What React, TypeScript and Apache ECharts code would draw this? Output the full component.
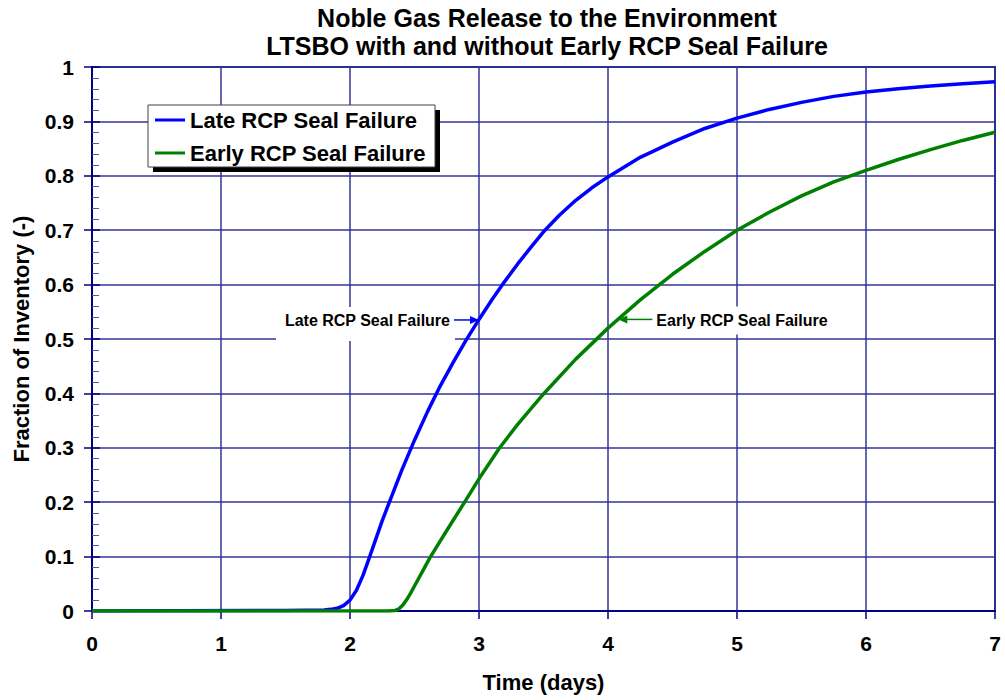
import React, { useEffect, useRef } from "react";
import * as echarts from "echarts";

const TITLE_LINES = [
  "Noble Gas Release to the Environment",
  "LTSBO with and without Early RCP Seal Failure",
];
const X_NAME = "Time (days)";
const Y_NAME = "Fraction of Inventory (-)";
const SERIES_NAMES = ["Late RCP Seal Failure", "Early RCP Seal Failure"];
const SERIES_COLORS = ["#0000FF", "#008000"];

const lateDays = [0, 1.5, 1.8, 1.85, 1.9, 1.95, 2.0, 2.05, 2.1, 2.15, 2.2, 2.25, 2.3, 2.4, 2.5, 2.6, 2.7, 2.8, 2.9, 3.0, 3.1, 3.2, 3.3, 3.4, 3.5, 3.625, 3.75, 3.875, 4.0, 4.25, 4.5, 4.75, 5.0, 5.25, 5.5, 5.75, 6.0, 6.25, 6.5, 6.75, 7.0];
const lateFrac = [0, 0.001, 0.002, 0.003, 0.005, 0.01, 0.02, 0.038, 0.065, 0.098, 0.132, 0.166, 0.197, 0.258, 0.314, 0.366, 0.414, 0.457, 0.498, 0.536, 0.572, 0.606, 0.638, 0.668, 0.697, 0.728, 0.755, 0.778, 0.798, 0.834, 0.862, 0.887, 0.906, 0.922, 0.935, 0.946, 0.954, 0.96, 0.965, 0.969, 0.973];

const earlyDays = [0, 2.3, 2.35, 2.38, 2.41, 2.44, 2.47, 2.5, 2.56, 2.62, 2.75, 2.88, 3.0, 3.16, 3.3, 3.5, 3.75, 4.0, 4.25, 4.5, 4.75, 5.0, 5.25, 5.5, 5.75, 6.0, 6.25, 6.5, 6.75, 7.0];
const earlyFrac = [0, 0, 0.001, 0.004, 0.011, 0.021, 0.033, 0.046, 0.072, 0.098, 0.148, 0.197, 0.243, 0.3, 0.343, 0.399, 0.463, 0.52, 0.572, 0.619, 0.661, 0.7, 0.733, 0.763, 0.789, 0.81, 0.83, 0.848, 0.865, 0.88];

const X_MIN = 0, X_MAX = 7, X_STEP = 1;
const Y_MIN = 0, Y_MAX = 1, Y_STEP = 0.1;

const LATE_LABEL_AT = [3.0, 0.535];
const EARLY_LABEL_AT = [4.08, 0.536];

const FONT = "'Liberation Sans', Arial, Helvetica, sans-serif";
const GRID_COLOR = "#333399";
const AXIS_COLOR = "#000080";

export default function App() {
  const ref = useRef<HTMLDivElement>(null);

  useEffect(() => {
    document.body.style.margin = "0";
    const chart = echarts.init(ref.current!, null, { renderer: "svg" });

    const labelStyle = { fontFamily: FONT, fontWeight: "bold" as const, fontSize: 21, color: "#000" };

    const option: any = {
      animation: false,
      backgroundColor: "#fff",
      grid: {
        left: 92, right: 10, top: 67, bottom: 89,
        show: true, borderColor: "#1c1c88", borderWidth: 2, backgroundColor: "transparent",
      },
      legend: {
        orient: "vertical", left: 150, top: 104, z: 10, padding: 5,
        itemWidth: 30, itemHeight: 3, itemGap: 11, itemTextGap: 5,
        icon: "rect",
        data: SERIES_NAMES,
        textStyle: { fontFamily: FONT, fontWeight: "bold", fontSize: 22, lineHeight: 22, color: "#000" },
      },
      xAxis: {
        type: "value", min: X_MIN, max: X_MAX, interval: X_STEP,
        name: X_NAME, nameLocation: "middle", nameGap: 60,
        nameTextStyle: { fontFamily: FONT, fontWeight: "bold", fontSize: 22, color: "#000" },
        axisLine: { show: true, onZero: false, lineStyle: { color: AXIS_COLOR, width: 2 } },
        axisTick: { show: true, length: 8, lineStyle: { color: AXIS_COLOR, width: 1.5 } },
        axisLabel: { ...labelStyle, margin: 22 },
        splitLine: { show: true, lineStyle: { color: GRID_COLOR, width: 1.5 } },
      },
      yAxis: [
        {
          type: "value", min: Y_MIN, max: Y_MAX, interval: Y_STEP, position: "left",
          name: Y_NAME, nameLocation: "middle", nameGap: 60,
          nameTextStyle: { fontFamily: FONT, fontWeight: "bold", fontSize: 22, color: "#000" },
          axisLine: { show: true, onZero: false, lineStyle: { color: AXIS_COLOR, width: 2 } },
          axisTick: { show: true, length: 8, lineStyle: { color: AXIS_COLOR, width: 1.5 } },
          axisLabel: { ...labelStyle, margin: 18, formatter: (v: number) => String(Math.round(v * 10) / 10) },
          splitLine: { show: true, lineStyle: { color: GRID_COLOR, width: 1.5 } },
        },
        {
          type: "value", min: Y_MIN, max: Y_MAX, interval: Y_STEP, position: "left", offset: 0,
          axisLine: { show: false },
          axisLabel: { show: false },
          splitLine: { show: false },
          axisTick: { show: true, inside: true, length: 8, lineStyle: { color: AXIS_COLOR, width: 1.5 } },
          minorTick: { show: true, splitNumber: 5, length: 7, lineStyle: { color: "#5555aa", width: 1 } },
        },
      ],
      series: [
        {
          name: SERIES_NAMES[0], type: "line", yAxisIndex: 0,
          data: lateDays.map((d, i) => [d, lateFrac[i]]),
          showSymbol: false, smooth: false,
          lineStyle: { color: SERIES_COLORS[0], width: 3.5, join: "round" },
          itemStyle: { color: SERIES_COLORS[0] }, z: 3,
        },
        {
          name: SERIES_NAMES[1], type: "line", yAxisIndex: 0,
          data: earlyDays.map((d, i) => [d, earlyFrac[i]]),
          showSymbol: false, smooth: false,
          lineStyle: { color: SERIES_COLORS[1], width: 3.5, join: "round" },
          itemStyle: { color: SERIES_COLORS[1] }, z: 4,
        },
      ],
    };
    chart.setOption(option);

    const lp = chart.convertToPixel({ gridIndex: 0 }, LATE_LABEL_AT) as number[];
    const ep = chart.convertToPixel({ gridIndex: 0 }, EARLY_LABEL_AT) as number[];
    const annFont = `bold 16px ${FONT}`;
    const titleFont = `bold 25px ${FONT}`;

    const graphics: any[] = [
      {
        type: "text", x: 547, y: 18, z: 10,
        style: { text: TITLE_LINES[0], font: titleFont, fill: "#000", align: "center", verticalAlign: "middle" },
      },
      {
        type: "text", x: 547, y: 46, z: 10,
        style: { text: TITLE_LINES[1], font: titleFont, fill: "#000", align: "center", verticalAlign: "middle" },
      },
      // legend box with shadow
      { type: "rect", z: 5, shape: { x: 153, y: 110, width: 287, height: 62 }, style: { fill: "#000" } },
      { type: "rect", z: 6, shape: { x: 148, y: 105, width: 287, height: 62 }, style: { fill: "#fff", stroke: "#404040", lineWidth: 1 } },
      // late annotation
      { type: "rect", z: 5, shape: { x: lp[0] - 203, y: lp[1] - 13, width: 179, height: 34 }, style: { fill: "#fff" } },
      {
        type: "text", z: 6, x: lp[0] - 29, y: lp[1] + 1,
        style: { text: SERIES_NAMES[0], font: annFont, fill: "#000", align: "right", verticalAlign: "middle" },
      },
      { type: "line", z: 6, shape: { x1: lp[0] - 25, y1: lp[1], x2: lp[0] - 6, y2: lp[1] }, style: { stroke: SERIES_COLORS[0], lineWidth: 1.5 } },
      { type: "polygon", z: 6, shape: { points: [[lp[0], lp[1]], [lp[0] - 9, lp[1] - 4], [lp[0] - 9, lp[1] + 4]] }, style: { fill: SERIES_COLORS[0] } },
      // early annotation
      { type: "rect", z: 5, shape: { x: ep[0] + 28, y: ep[1] - 13, width: 195, height: 28 }, style: { fill: "#fff" } },
      {
        type: "text", z: 6, x: ep[0] + 38, y: ep[1] + 1,
        style: { text: SERIES_NAMES[1], font: annFont, fill: "#000", align: "left", verticalAlign: "middle" },
      },
      { type: "line", z: 6, shape: { x1: ep[0] + 34, y1: ep[1], x2: ep[0] + 6, y2: ep[1] }, style: { stroke: SERIES_COLORS[1], lineWidth: 1.5 } },
      { type: "polygon", z: 6, shape: { points: [[ep[0], ep[1]], [ep[0] + 9, ep[1] - 4], [ep[0] + 9, ep[1] + 4]] }, style: { fill: SERIES_COLORS[1] } },
    ];
    chart.setOption({ graphic: graphics });

    return () => chart.dispose();
  }, []);

  return <div ref={ref} style={{ width: 1005, height: 700 }} />;
}
